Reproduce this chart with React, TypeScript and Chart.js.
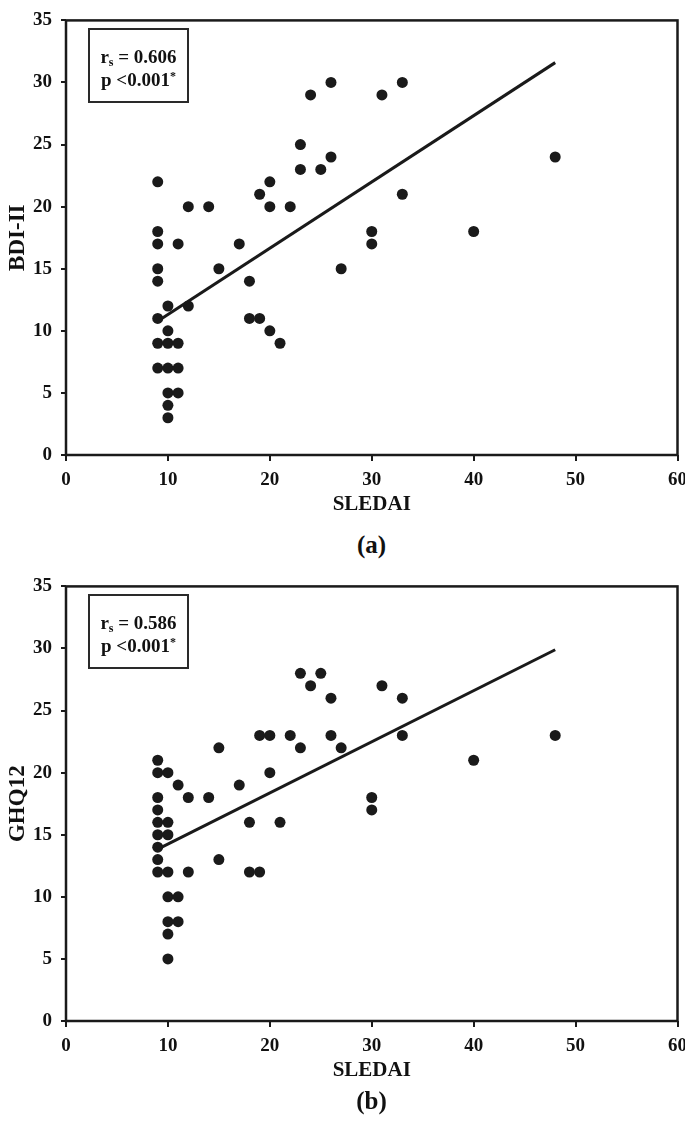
import React, { useEffect, useRef } from "react";
import { Chart, registerables } from "chart.js";

Chart.register(...registerables);

const FONT = '"Liberation Serif", "Times New Roman", serif';

// Panel (a): SLEDAI vs BDI-II
const sledaiA = [
  9, 9, 9, 9, 9, 9, 9, 9,
  10, 10, 10, 10, 10, 10, 10,
  11, 11, 11, 11,
  12, 12, 14, 15, 17, 18, 18, 19, 19, 20, 20, 20, 21, 22,
  23, 23, 24, 25, 26, 26, 27, 30, 30, 31, 33, 33, 40, 48,
];
const bdiA = [
  22, 18, 17, 15, 14, 11, 9, 7,
  12, 10, 9, 7, 5, 4, 3,
  17, 9, 7, 5,
  20, 12, 20, 15, 17, 14, 11, 21, 11, 22, 20, 10, 9, 20,
  25, 23, 29, 23, 30, 24, 15, 18, 17, 29, 30, 21, 18, 24,
];
const fitAx = [9.4, 48];
const fitAy = [11.0, 31.6];

// Panel (b): SLEDAI vs GHQ12
const sledaiB = [
  9, 9, 9, 9, 9, 9, 9, 9, 9,
  10, 10, 10, 10, 10, 10, 10, 10,
  11, 11, 11,
  12, 12, 14, 15, 15, 17, 18, 18, 19, 19, 20, 20, 21, 22,
  23, 23, 24, 25, 26, 26, 27, 30, 30, 31, 33, 33, 40, 48,
];
const ghqB = [
  21, 20, 18, 17, 16, 15, 14, 13, 12,
  20, 16, 15, 12, 10, 8, 7, 5,
  19, 10, 8,
  18, 12, 18, 22, 13, 19, 16, 12, 23, 12, 23, 20, 16, 23,
  28, 22, 27, 28, 26, 23, 22, 18, 17, 27, 26, 23, 21, 23,
];
const fitBx = [9.4, 48];
const fitBy = [14.0, 29.9];

const xTickValues = [0, 10, 20, 30, 40, 50, 60];
const yTickValues = [0, 5, 10, 15, 20, 25, 30, 35];

const INK = "#1a1a1a";

const framePlugin = {
  id: "frame",
  afterDatasetsDraw(chart: any) {
    const { ctx, chartArea: a } = chart;
    ctx.save();
    ctx.strokeStyle = INK;
    ctx.lineWidth = 2.5;
    ctx.strokeRect(a.left, a.top, a.right - a.left, a.bottom - a.top);
    ctx.restore();
  },
};

type PanelProps = {
  xs: number[];
  ys: number[];
  fx: number[];
  fy: number[];
  yTitle: string;
};

function Panel({ xs, ys, fx, fy, yTitle }: PanelProps) {
  const ref = useRef<HTMLCanvasElement | null>(null);
  useEffect(() => {
    if (!ref.current) return;
    const points = xs.map((x, i) => ({ x, y: ys[i] }));
    const fit = fx.map((x, i) => ({ x, y: fy[i] }));
    const chart = new Chart(ref.current, {
      type: "scatter",
      data: {
        datasets: [
          {
            data: fit,
            showLine: true,
            borderColor: INK,
            borderWidth: 3,
            pointRadius: 0,
            fill: false,
          },
          {
            data: points,
            backgroundColor: INK,
            borderWidth: 0,
            pointRadius: 5.5,
          },
        ],
      },
      options: {
        responsive: false,
        animation: false,
        devicePixelRatio: 1,
        layout: { padding: { top: 14, right: 0, left: 0, bottom: 0 } },
        plugins: { legend: { display: false }, tooltip: { enabled: false } },
        scales: {
          x: {
            type: "linear",
            min: 0,
            max: 60,
            afterBuildTicks: (s: any) => {
              s.ticks = xTickValues.map((v) => ({ value: v }));
            },
            ticks: {
              color: "#111",
              font: { family: FONT, size: 19, weight: "bold" },
              padding: 8,
              maxRotation: 0,
            },
            grid: {
              drawOnChartArea: false,
              drawTicks: true,
              tickLength: 6,
              color: INK,
              lineWidth: 2,
            },
            border: { display: false },
            title: {
              display: true,
              text: "SLEDAI",
              color: "#111",
              font: { family: FONT, size: 21, weight: "bold" },
              padding: { top: 0, bottom: 8 },
            },
            afterFit: (s: any) => {
              s.height = 70;
            },
          },
          y: {
            type: "linear",
            min: 0,
            max: 35,
            afterBuildTicks: (s: any) => {
              s.ticks = yTickValues.map((v) => ({ value: v }));
            },
            ticks: {
              color: "#111",
              font: { family: FONT, size: 19, weight: "bold" },
              padding: 9,
            },
            grid: {
              drawOnChartArea: false,
              drawTicks: true,
              tickLength: 5,
              color: INK,
              lineWidth: 2,
            },
            border: { display: false },
            title: {
              display: true,
              text: yTitle,
              color: "#111",
              font: { family: FONT, size: 23, weight: "bold", lineHeight: 1 },
              padding: { top: 7, bottom: 0 },
            },
            afterFit: (s: any) => {
              s.width = 66;
            },
          },
        },
      } as any,
      plugins: [framePlugin],
    });
    return () => chart.destroy();
  }, [xs, ys, fx, fy, yTitle]);
  return <canvas ref={ref} width={695} height={525} style={{ display: "block" }} />;
}

const boxStyle: React.CSSProperties = {
  position: "absolute",
  left: 88,
  width: 101,
  height: 75,
  boxSizing: "border-box",
  border: "2px solid #2a2a2a",
  fontFamily: FONT,
  fontWeight: "bold",
  fontSize: 19,
  lineHeight: "23px",
  color: "#111",
  display: "flex",
  flexDirection: "column",
  alignItems: "center",
  justifyContent: "center",
  paddingTop: 5,
};

const captionStyle: React.CSSProperties = {
  position: "absolute",
  left: 66,
  width: 611,
  textAlign: "center",
  fontFamily: FONT,
  fontWeight: "bold",
  fontSize: 25,
  lineHeight: "30px",
  color: "#111",
};

export default function App() {
  return (
    <div
      style={{
        position: "fixed",
        left: 0,
        top: 0,
        width: 685,
        height: 1122,
        background: "#fff",
        overflow: "hidden",
      }}
    >
      <div style={{ position: "absolute", left: 0, top: 0 }}>
        <Panel xs={sledaiA} ys={bdiA} fx={fitAx} fy={fitAy} yTitle="BDI-II" />
      </div>
      <div style={{ ...boxStyle, top: 28 }}>
        <div>
          r<sub style={{ fontSize: 12, verticalAlign: "-3px", lineHeight: 0 }}>s</sub> = 0.606
        </div>
        <div>
          p &lt;0.001<sup style={{ fontSize: 12, verticalAlign: "6px", lineHeight: 0 }}>*</sup>
        </div>
      </div>
      <div style={{ ...captionStyle, top: 530 }}>(a)</div>

      <div style={{ position: "absolute", left: 0, top: 566 }}>
        <Panel xs={sledaiB} ys={ghqB} fx={fitBx} fy={fitBy} yTitle="GHQ12" />
      </div>
      <div style={{ ...boxStyle, top: 594 }}>
        <div>
          r<sub style={{ fontSize: 12, verticalAlign: "-3px", lineHeight: 0 }}>s</sub> = 0.586
        </div>
        <div>
          p &lt;0.001<sup style={{ fontSize: 12, verticalAlign: "6px", lineHeight: 0 }}>*</sup>
        </div>
      </div>
      <div style={{ ...captionStyle, top: 1086 }}>(b)</div>
    </div>
  );
}
